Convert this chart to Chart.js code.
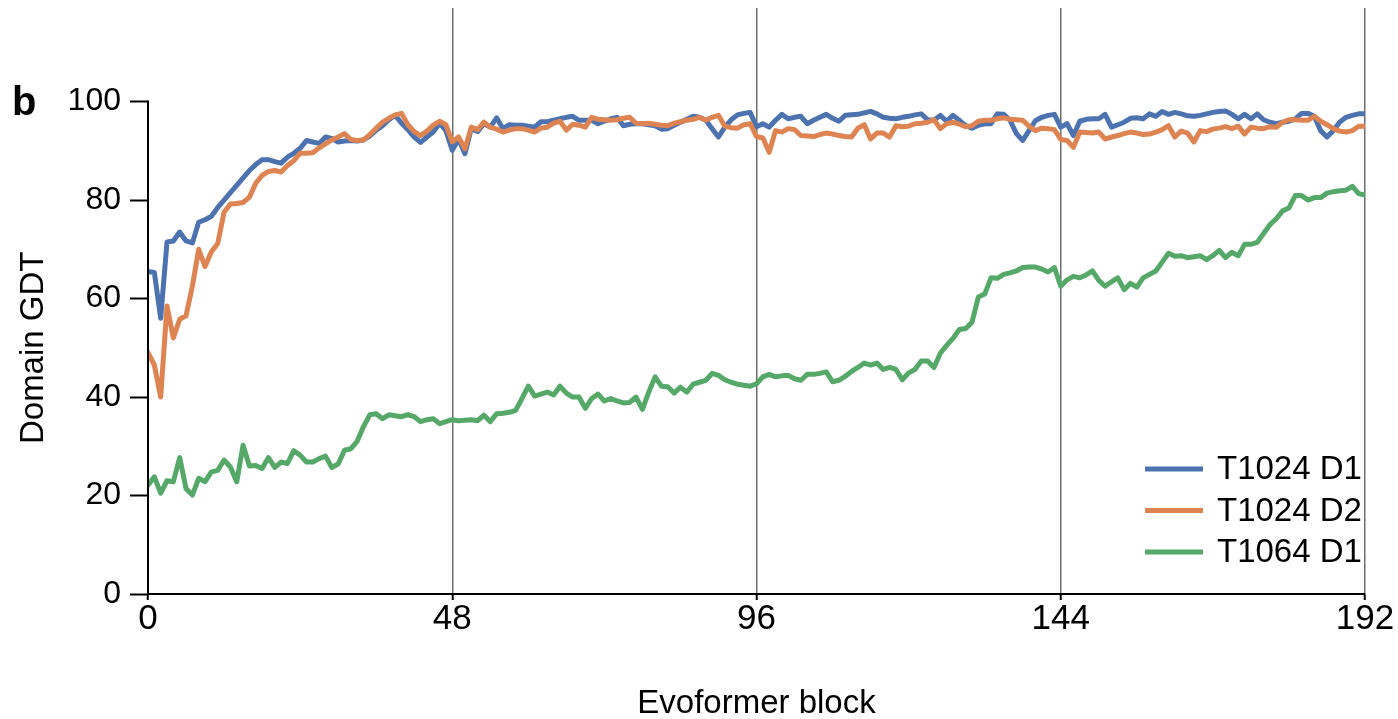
<!DOCTYPE html>
<html>
<head>
<meta charset="utf-8">
<script src="https://cdn.jsdelivr.net/npm/chart.js@4/dist/chart.umd.min.js"></script>
<style>
  html, body { margin: 0; padding: 0; background: #fff; }
  #wrap { width: 1398px; height: 719px; position: relative; }
</style>
</head>
<body>
<div id="wrap"><canvas id="chart" width="1398" height="719"></canvas></div>
<script>
// evoformer block index 0..192
const blocks = Array.from({ length: 193 }, (_, i) => i);
const xTicks = [0, 48, 96, 144, 192];
const yTicks = [0, 20, 40, 60, 80, 100];

const seriesNames = ['T1024 D1', 'T1024 D2', 'T1064 D1'];
const seriesColors = ['#4c72b0', '#dd8452', '#55a868'];

const t1024d1 = [
  65.5, 65.3, 56, 71.5, 71.7, 73.5, 71.7, 71.3, 75.5, 76,
  76.7, 78.5, 80, 81.5, 83, 84.5, 86, 87.2, 88.2, 88.2,
  87.8, 87.5, 88.7, 89.5, 90.5, 92.1, 91.8, 91.5, 92.8, 92.5,
  91.8, 92, 92.1, 92, 92.2, 93, 94.2, 95.1, 96.3, 97.2,
  95.6, 94.3, 92.8, 91.7, 92.8, 93.8, 95.6, 94.1, 90.1, 92.4,
  89.4, 94.5, 93.9, 95.5, 94.8, 96.7, 94.5, 95.3, 95.2, 95.2,
  95, 94.8, 95.9, 95.9, 96.2, 96.5, 96.8, 97, 96.2, 96.2,
  96.2, 95.5, 96, 96.5, 96.8, 95.1, 95.4, 95.5, 95.5, 95.3,
  95.1, 94.4, 94.5, 95.2, 95.8, 96.4, 97, 96.8, 96.2, 94.5,
  92.8, 94.8, 96.3, 97.3, 97.6, 97.8, 94.9, 95.5, 94.8, 96.2,
  97.4, 96.5, 96.8, 97, 95.5, 96.2, 96.8, 97.4, 96.6, 96,
  97.2, 97.3, 97.4, 97.7, 98, 97.5, 96.8, 96.6, 96.5, 96.8,
  97, 97.3, 97.5, 96.3, 96.2, 97.2, 96, 97.2, 96.2, 95.1,
  94.6, 95.2, 95.5, 95.5, 97.5, 97.4, 96.2, 93.5, 92.1, 94.1,
  96.1, 96.8, 97.2, 97.4, 94.8, 95.5, 93.1, 96, 96.4, 96.5,
  96.5, 97.4, 94.8, 95.3, 95.8, 96.6, 96.7, 96.5, 97.5, 97,
  98, 97.4, 97.8, 97.5, 97.1, 97, 97.2, 97.5, 97.8, 98,
  98.1, 97.4, 96.5, 97.4, 96.5, 97.5, 96.3, 95.8, 95.5, 95.8,
  96, 96.5, 97.6, 97.6, 97, 94.1, 92.8, 94.1, 95.8, 96.8,
  97.2, 97.5, 97.5
];

const t1024d2 = [
  49, 46.5, 40, 58.5, 52, 55.8, 56.5, 62.5, 70, 66.5,
  69.5, 71.2, 77.5, 79.2, 79.3, 79.5, 80.6, 83.4, 85, 85.8,
  86, 85.7, 87, 88, 89.5, 89.5, 89.6, 90.6, 91.4, 92.2,
  92.8, 93.5, 92.3, 92.1, 92.2, 93.3, 94.6, 95.8, 96.6, 97.3,
  97.6, 95.3, 93.9, 93.1, 94, 95.2, 96, 95.3, 91.8, 92.8,
  90.4, 94.8, 94.3, 95.8, 94.8, 94.4, 93.8, 94.2, 94.5, 94.5,
  94.2, 93.8, 94.6, 94.8, 95.6, 96, 94.2, 95.4, 95.2, 94.8,
  96.8, 96.4, 96.3, 96.2, 96.3, 96.6, 96.8, 95.6, 95.5, 95.6,
  95.4, 95.2, 95.1, 95.6, 95.9, 96.2, 96.4, 96.8, 96.2, 96.8,
  97.2, 95, 94.7, 94.6, 95.3, 95.5, 92.9, 92.6, 89.7, 94.1,
  93.8, 94.5, 94.3, 93.1, 93, 92.9, 93.3, 93.6, 93.4, 93.1,
  92.9, 92.8, 94.6, 95.3, 92.4, 93.6, 93.6, 92.8, 95.1, 94.9,
  95, 95.5, 95.6, 95.8, 96.3, 94.5, 95.5, 95.8, 95.4, 94.9,
  95.1, 96, 96.2, 96.2, 96.5, 96.7, 96.4, 96.3, 96.2, 95,
  94.1, 94.6, 94.5, 94.3, 92.3, 92.1, 90.7, 93.8, 93.7, 93.6,
  93.8, 92.4, 92.8, 93.1, 93.5, 93.8, 93.6, 93.3, 93.4, 93.8,
  94.3, 95.1, 92.8, 94, 93.6, 91.8, 94.1, 93.9, 94.4, 94.6,
  94.9, 94.5, 95, 93.4, 94.8, 94.6, 94.5, 94.9, 94.8, 95.8,
  96.3, 96.3, 96.2, 96.2, 97, 96, 95.3, 94.5, 94, 93.8,
  94.1, 95, 95
];

const t1064d1 = [
  22.1, 23.8, 20.5, 23, 22.8, 27.7, 21.4, 20.1, 23.5, 22.8,
  24.8, 25.1, 27.2, 25.8, 22.8, 30.2, 26, 26.1, 25.5, 27.7,
  25.7, 26.8, 26.5, 29.1, 28.2, 26.8, 26.8, 27.5, 28, 25.7,
  26.4, 29.2, 29.5, 31, 34, 36.4, 36.6, 35.6, 36.4, 36.2,
  36, 36.4, 36, 35, 35.4, 35.6, 34.6, 35, 35.4, 35.2,
  35.3, 35.4, 35.2, 36.3, 35, 36.6, 36.7, 36.9, 37.3, 39.7,
  42.2, 40.2, 40.6, 41, 40.4, 42.2, 40.8, 40, 40, 37.7,
  39.7, 40.6, 39.2, 39.7, 39.2, 38.8, 38.9, 40, 37.5, 41,
  44.1, 42.2, 42.1, 40.8, 42, 41, 42.6, 43, 43.4, 44.8,
  44.4, 43.5, 43, 42.6, 42.4, 42.2, 42.7, 44.1, 44.6, 44.1,
  44.3, 44.4, 43.7, 43.4, 44.6, 44.6, 44.8, 45.1, 43.1, 43.4,
  44.2, 45.2, 46, 46.9, 46.5, 46.9, 45.6, 46, 45.6, 43.5,
  44.9, 45.6, 47.3, 47.3, 46, 48.9, 50.5, 51.9, 53.7, 53.9,
  55.2, 60.3, 60.9, 64.2, 64.1, 64.9, 65.2, 65.6, 66.3, 66.4,
  66.4, 66, 65.4, 66.3, 62.5, 63.8, 64.5, 64.2, 64.8, 65.6,
  63.7, 62.5, 63.4, 64.2, 61.8, 63.1, 62.3, 64.2, 64.9, 65.6,
  67.4, 69.2, 68.6, 68.7, 68.3, 68.5, 68.7, 67.9, 68.7, 69.8,
  68.3, 69.4, 68.7, 71, 71, 71.4, 73.2, 75, 76.2, 77.8,
  78.4, 80.9, 80.9, 80, 80.5, 80.5, 81.4, 81.7, 81.9, 82,
  82.8, 81.3, 81
];

const FONT = "'Liberation Sans', Arial, Helvetica, sans-serif";
const yTitle = 'Domain GDT';

const toPoints = (vals) => vals.map((y, i) => ({ x: blocks[i], y: y }));

// y axis only runs from 0 to 100, the chart area goes higher for the grid lines
const yAxisLine = {
  id: 'yAxisLine',
  afterDatasetsDraw(chart) {
    const { ctx, scales } = chart;
    const x = scales.x.getPixelForValue(0);
    const y0 = scales.y.getPixelForValue(0);
    const y100 = scales.y.getPixelForValue(100);
    ctx.save();
    ctx.strokeStyle = '#000';
    ctx.lineWidth = 2;
    ctx.beginPath();
    ctx.moveTo(x, y0 + 1);
    ctx.lineTo(x, y100 - 1);
    ctx.stroke();
    // y title, centred on the 0-100 span
    ctx.fillStyle = '#000';
    ctx.font = "33px " + FONT;
    ctx.textAlign = 'center';
    ctx.textBaseline = 'middle';
    ctx.translate(34, (y0 + y100) / 2);
    ctx.rotate(-Math.PI / 2);
    ctx.fillText(yTitle, 0, 0);
    ctx.restore();
  }
};

const panelLegend = {
  id: 'panelLegend',
  afterDraw(chart) {
    const { ctx } = chart;
    ctx.save();
    // panel letter
    ctx.fillStyle = '#000';
    ctx.font = "bold 40px " + FONT;
    ctx.textBaseline = 'alphabetic';
    ctx.textAlign = 'left';
    ctx.fillText('b', 12, 115);
    // legend
    ctx.font = "33px " + FONT;
    ctx.textBaseline = 'middle';
    chart.data.datasets.forEach((ds, i) => {
      const y = 469 + i * 41.5;
      ctx.strokeStyle = ds.borderColor;
      ctx.lineWidth = 5;
      ctx.beginPath();
      ctx.moveTo(1145, y);
      ctx.lineTo(1203, y);
      ctx.stroke();
      ctx.fillStyle = '#000';
      ctx.fillText(ds.label, 1217, y + 1);
    });
    ctx.restore();
  }
};

new Chart(document.getElementById('chart'), {
  type: 'line',
  data: {
    datasets: [
      { label: seriesNames[0], data: toPoints(t1024d1), borderColor: seriesColors[0], order: 1 },
      { label: seriesNames[1], data: toPoints(t1024d2), borderColor: seriesColors[1], order: 0 },
      { label: seriesNames[2], data: toPoints(t1064d1), borderColor: seriesColors[2], order: 2 },
    ]
  },
  options: {
    responsive: false,
    animation: false,
    devicePixelRatio: 1,
    layout: { padding: { top: 8, right: 33, left: 0, bottom: 0 } },
    elements: {
      line: { borderWidth: 5, tension: 0, borderJoinStyle: 'round', borderCapStyle: 'round' },
      point: { radius: 0 }
    },
    plugins: {
      legend: { display: false },
      tooltip: { enabled: false }
    },
    scales: {
      x: {
        type: 'linear',
        min: 0,
        max: 192,
        afterBuildTicks: (scale) => { scale.ticks = xTicks.map(v => ({ value: v })); },
        afterFit: (scale) => { scale.height = 125; },
        border: { display: true, color: '#000', width: 2 },
        grid: {
          color: (c) => (c.tick && c.tick.value === 0 ? 'rgba(0,0,0,0)' : '#6e6e6e'),
          lineWidth: 1.5,
          tickColor: '#000',
          tickLength: 6,
          tickWidth: 2
        },
        ticks: { color: '#000', font: { family: FONT, size: 35 }, padding: -2, maxRotation: 0 },
        title: {
          display: true,
          text: 'Evoformer block',
          color: '#000',
          font: { family: FONT, size: 33 },
          padding: { top: 0, bottom: -5 }
        }
      },
      y: {
        min: 0,
        max: 119,
        afterBuildTicks: (scale) => { scale.ticks = yTicks.map(v => ({ value: v })); },
        afterFit: (scale) => { scale.width = 148; scale.paddingTop = 0; scale.paddingBottom = 0; },
        border: { display: false },
        grid: {
          drawOnChartArea: false,
          drawTicks: true,
          tickColor: '#000',
          tickLength: 18,
          tickWidth: 2
        },
        ticks: { color: '#000', font: { family: FONT, size: 32 }, padding: 9 }
      }
    }
  },
  plugins: [yAxisLine, panelLegend]
});
</script>
</body>
</html>
